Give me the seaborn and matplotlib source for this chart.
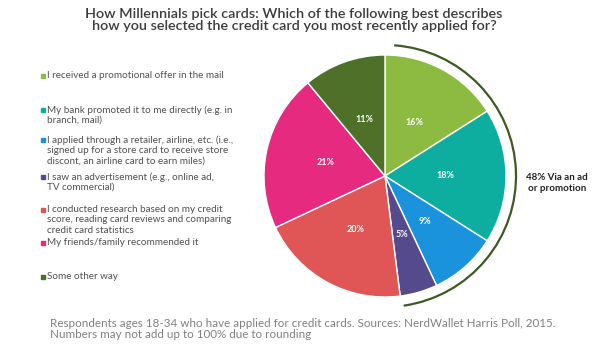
import matplotlib
matplotlib.use("Agg")
import matplotlib.pyplot as plt
from matplotlib.patches import Arc
import numpy as np
import seaborn as sns

sns.set_theme(style="white")
plt.rcParams['font.family'] = ['Lato', 'DejaVu Sans']

categories = [
    "I received a promotional offer in the mail",
    "My bank promoted it to me directly (e.g. in\nbranch, mail)",
    "I applied through a retailer, airline, etc. (i.e.,\nsigned up for a store card to receive store\ndiscont, an airline card to earn miles)",
    "I saw an advertisement (e.g., online ad,\nTV commercial)",
    "I conducted research based on my credit\nscore, reading card reviews and comparing\ncredit card statistics",
    "My friends/family recommended it",
    "Some other way",
]
values = [16, 18, 9, 5, 20, 21, 11]
colors = ["#8DBB41", "#0DAE9F", "#1A92DC", "#554A8C", "#E05656", "#E52A80", "#4E7029"]
pct_labels = ["16%", "18%", "9%", "5%", "20%", "21%", "11%"]
promo_share = 48
title = ("How Millennials pick cards: Which of the following best describes\n"
         "how you selected the credit card you most recently applied for?")
footnote = ("Respondents ages 18-34 who have applied for credit cards. Sources: NerdWallet Harris Poll, 2015.\n"
            "Numbers may not add up to 100% due to rounding")

W, H = 605, 349
fig = plt.figure(figsize=(W / 100, H / 100), dpi=100)
ax = fig.add_axes([0, 0, 1, 1])
ax.set_xlim(0, W)
ax.set_ylim(H, 0)
ax.axis("off")

# Pie in its own axes (pixel-equivalent coords)
cx, cy, R = 385, 176, 121
pax = fig.add_axes([(cx - 150) / W, (H - cy - 150) / H, 300 / W, 300 / H])
wedges, texts = pax.pie(values, colors=colors, startangle=90, counterclock=False,
                        radius=R, center=(0, 0),
                        wedgeprops=dict(edgecolor="white", linewidth=1.0))
pax.set_xlim(-150, 150)
pax.set_ylim(-150, 150)
pax.set_aspect("equal")
pax.axis("off")
cum = np.cumsum([0] + values)
for i, lab in enumerate(pct_labels):
    mid = 90 - (cum[i] + values[i] / 2) / 100 * 360
    r = R * 0.5
    pax.text(r * np.cos(np.radians(mid)), r * np.sin(np.radians(mid)), lab,
             ha="center", va="center", color="white", fontsize=6.5, fontweight="bold")

# arc over promo wedges
span = promo_share / 100 * 360
arc = Arc((0, 0), 2 * 131, 2 * 131, theta1=90 - span + 1, theta2=86,
          color="#3D5A22", linewidth=1.6)
pax.add_patch(arc)
ax.text(557, 183, f"{promo_share}% Via an ad\nor promotion", ha="center", va="center",
        fontsize=7, fontweight="bold", color="#222222", linespacing=1.2)

# Title
ax.text(294, 20, title, ha="center", va="center", fontsize=10.4, color="#3c3c3c",
        fontweight="semibold", linespacing=1.05)

# Legend
ys = [76, 110, 140, 177, 210, 243, 277]
for y, c, lab in zip(ys, colors, categories):
    ax.plot([43], [y], marker="s", markersize=2.2, color=c, linestyle="none")
    ax.text(47, y - 5, lab, ha="left", va="top", fontsize=7.1, color="#505050",
            linespacing=1.2)

ax.text(50, 329, footnote, ha="left", va="center", fontsize=8.4, color="#808080",
        linespacing=1.05)

fig.savefig("out.png", dpi=100)
